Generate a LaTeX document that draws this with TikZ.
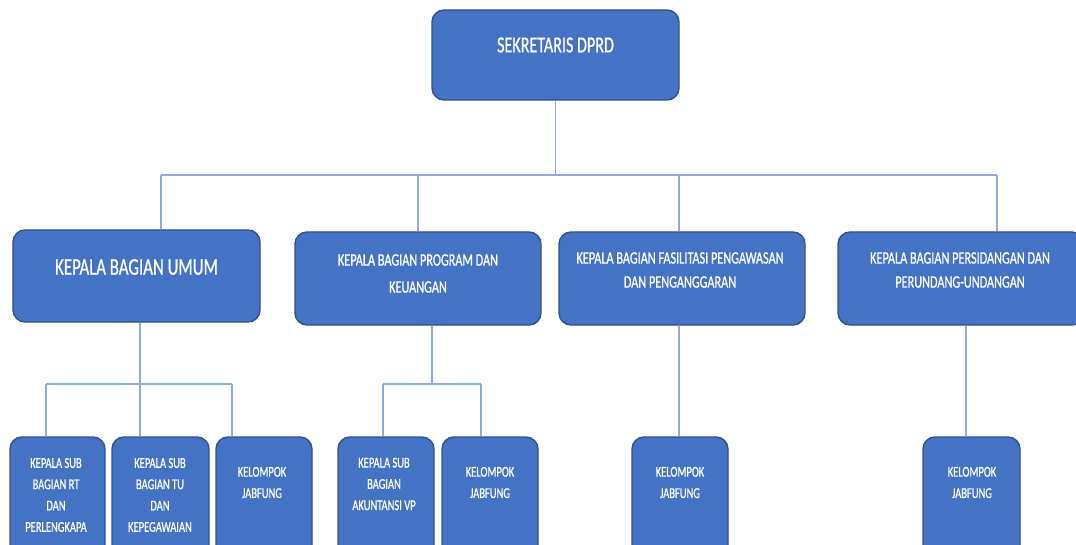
\documentclass[tikz,border=0pt]{standalone}
\usepackage{fontspec}
\setmainfont{Carlito}[FakeStretch=0.7,FakeBold=0.8]
\definecolor{boxfill}{HTML}{4472C4}
\definecolor{boxline}{HTML}{2F528F}
\definecolor{conncol}{HTML}{8FAADC}
\tikzset{
  box/.style={draw=boxline, line width=1.4pt, fill=boxfill, rounded corners=12pt, inner sep=0pt},
  txt/.style={text=white, align=center, inner sep=0pt},
  conn/.style={draw=conncol, line width=1.1pt},
}
\begin{document}
\begin{tikzpicture}[x=1pt,y=-1pt]
\useasboundingbox (0,0) rectangle (1076,545);
\clip (0,0) rectangle (1076,545);
% boxes
\node[box, minimum width=247pt, minimum height=90pt] (top) at (555.5,55) {};
\node[box, minimum width=247pt, minimum height=92pt] (umum) at (136.5,276) {};
\node[box, minimum width=246pt, minimum height=93pt] (prog) at (418,278.5) {};
\node[box, minimum width=246pt, minimum height=93pt] (fas) at (682,278.5) {};
\node[box, minimum width=246pt, minimum height=93pt] (pers) at (961,278.5) {};
\node[box, minimum width=95pt, minimum height=125pt] (rt) at (57.5,499.5) {};
\node[box, minimum width=97pt, minimum height=125pt] (tu) at (160.5,499.5) {};
\node[box, minimum width=96pt, minimum height=125pt] (jab1) at (264,499.5) {};
\node[box, minimum width=96pt, minimum height=125pt] (akun) at (386,499.5) {};
\node[box, minimum width=96pt, minimum height=125pt] (jab2) at (490,499.5) {};
\node[box, minimum width=96pt, minimum height=125pt] (jab3) at (680,499.5) {};
\node[box, minimum width=97pt, minimum height=125pt] (jab4) at (971.5,499.5) {};
% texts
\node[txt, font=\fontsize{23}{27}\selectfont] (ttop) at (555.5,45) {SEKRETARIS DPRD};
\node[txt, font=\fontsize{24}{27}\selectfont] (tumum) at (136.5,267) {KEPALA BAGIAN UMUM};
\node[txt, font=\fontsize{17.5}{27}\selectfont] (tprog) at (418,273.5) {KEPALA BAGIAN PROGRAM DAN\\KEUANGAN};
\node[txt, font=\fontsize{17.5}{24}\selectfont] (tfas) at (680,270) {KEPALA BAGIAN FASILITASI PENGAWASAN\\DAN PENGANGGARAN};
\node[txt, font=\fontsize{17.5}{24}\selectfont] (tpers) at (960,270) {KEPALA BAGIAN PERSIDANGAN DAN\\PERUNDANG-UNDANGAN};
\node[txt, font=\fontsize{15}{21.3}\selectfont] (trt) at (56,495) {KEPALA SUB\\BAGIAN RT\\DAN\\PERLENGKAPA};
\node[txt, font=\fontsize{15}{21.3}\selectfont] (ttu) at (160,495) {KEPALA SUB\\BAGIAN TU\\DAN\\KEPEGAWAIAN};
\node[txt, font=\fontsize{15}{21.3}\selectfont] (tjab1) at (262,482.5) {KELOMPOK\\JABFUNG};
\node[txt, font=\fontsize{15}{21.3}\selectfont] (takun) at (384,484) {KEPALA SUB\\BAGIAN\\AKUNTANSI VP};
\node[txt, font=\fontsize{15}{21.3}\selectfont] (tjab2) at (490,482.5) {KELOMPOK\\JABFUNG};
\node[txt, font=\fontsize{15}{21.3}\selectfont] (tjab3) at (680,482.5) {KELOMPOK\\JABFUNG};
\node[txt, font=\fontsize{15}{21.3}\selectfont] (tjab4) at (972,482.5) {KELOMPOK\\JABFUNG};
% junction coordinates
\coordinate (j0) at (555.5,175);
\coordinate (d1) at (161,175);
\coordinate (d2) at (418,175);
\coordinate (d3) at (679,175);
\coordinate (d4) at (997,175);
\coordinate (ju) at (140,384);
\coordinate (ju1) at (46,384);
\coordinate (ju3) at (232,384);
\coordinate (jp) at (432,384);
\coordinate (jp1) at (383,384);
\coordinate (jp2) at (481,384);
\coordinate (jf) at (679,384);
\coordinate (jpe) at (966,384);
% connectors
\draw[conn] (top.south) -- (j0);
\draw[conn] (d1) -- (d4);
\draw[conn] (d1) -- (d1 |- umum.north);
\draw[conn] (d2) -- (d2 |- prog.north);
\draw[conn] (d3) -- (d3 |- fas.north);
\draw[conn] (d4) -- (d4 |- pers.north);
\draw[conn] (ju |- umum.south) -- (ju);
\draw[conn] (ju1) -- (ju3);
\draw[conn] (ju1) -- (ju1 |- rt.north);
\draw[conn] (ju) -- (ju |- tu.north);
\draw[conn] (ju3) -- (ju3 |- jab1.north);
\draw[conn] (jp |- prog.south) -- (jp);
\draw[conn] (jp1) -- (jp2);
\draw[conn] (jp1) -- (jp1 |- akun.north);
\draw[conn] (jp2) -- (jp2 |- jab2.north);
\draw[conn] (jf |- fas.south) -- (jf |- jab3.north);
\draw[conn] (jpe |- pers.south) -- (jpe |- jab4.north);
\end{tikzpicture}
\end{document}
